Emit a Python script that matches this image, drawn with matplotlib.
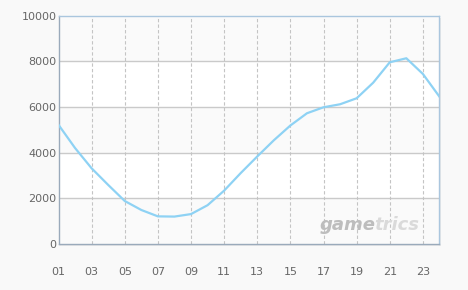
import matplotlib
matplotlib.use("Agg")
import matplotlib.pyplot as plt
from matplotlib.patches import Rectangle

hours = list(range(1, 25))
values = [5220, 4200, 3310, 2580, 1875, 1480, 1200, 1190, 1300, 1690, 2330, 3100,
          3830, 4540, 5190, 5727, 5990, 6122, 6385, 7070, 7966, 8142, 7453, 6455]
xtick_pos = list(range(1, 25, 2))
xtick_labels = ["%02d" % h for h in xtick_pos]
ytick_pos = [0, 2000, 4000, 6000, 8000, 10000]

fig = plt.figure(figsize=(4.68, 2.90), dpi=100, facecolor="#f9f9f9")
ax = fig.add_axes([0.125, 0.1597, 0.814, 0.7853])
ax.set_facecolor("#ffffff")
ax.set_xlim(1, 24)
ax.set_ylim(0, 10000)

# shadow
shadow = Rectangle((0.128, 0.152), 0.814, 0.7853, transform=fig.transFigure,
                   facecolor="#e8e8e8", edgecolor="none", zorder=-5)
fig.patches.append(shadow)

# alternating bands
for i, y0 in enumerate(range(0, 10000, 2000)):
    if i % 2 == 0:
        ax.axhspan(y0, y0 + 2000, facecolor="#fafafa", edgecolor="none", zorder=0)

for y in ytick_pos[1:-1]:
    ax.axhline(y, color="#cacaca", lw=1.0, zorder=1)
for x in xtick_pos[1:]:
    ax.axvline(x, color="#c4c4c4", lw=0.8, ls=(0, (3, 2)), zorder=1)

ax.plot(hours, values, color="#8ed2f4", lw=1.6, zorder=3, solid_joinstyle="round")

ax.set_xticks(xtick_pos)
ax.set_xticklabels(xtick_labels)
ax.set_yticks(ytick_pos)
ax.set_yticklabels([str(v) for v in ytick_pos])
ax.tick_params(axis="x", length=0, pad=17, labelsize=8, labelcolor="#666666")
ax.tick_params(axis="y", length=0, pad=1.5, labelsize=8, labelcolor="#666666")

ax.spines["left"].set_color("#9aaabb")
ax.spines["bottom"].set_color("#9aaabb")
ax.spines["top"].set_color("#aac6de")
ax.spines["right"].set_color("#aac6de")
for s in ax.spines.values():
    s.set_linewidth(1.0)

fig.text(0.684, 0.207, "game", fontsize=13, fontweight="bold", style="italic",
         color="#bdbdbd", ha="left", va="baseline", zorder=10)
fig.text(0.799, 0.207, "trics", fontsize=13, fontweight="bold", style="italic",
         color="#dadada", ha="left", va="baseline", zorder=10)

fig.savefig("out.png", dpi=100, facecolor=fig.get_facecolor())
